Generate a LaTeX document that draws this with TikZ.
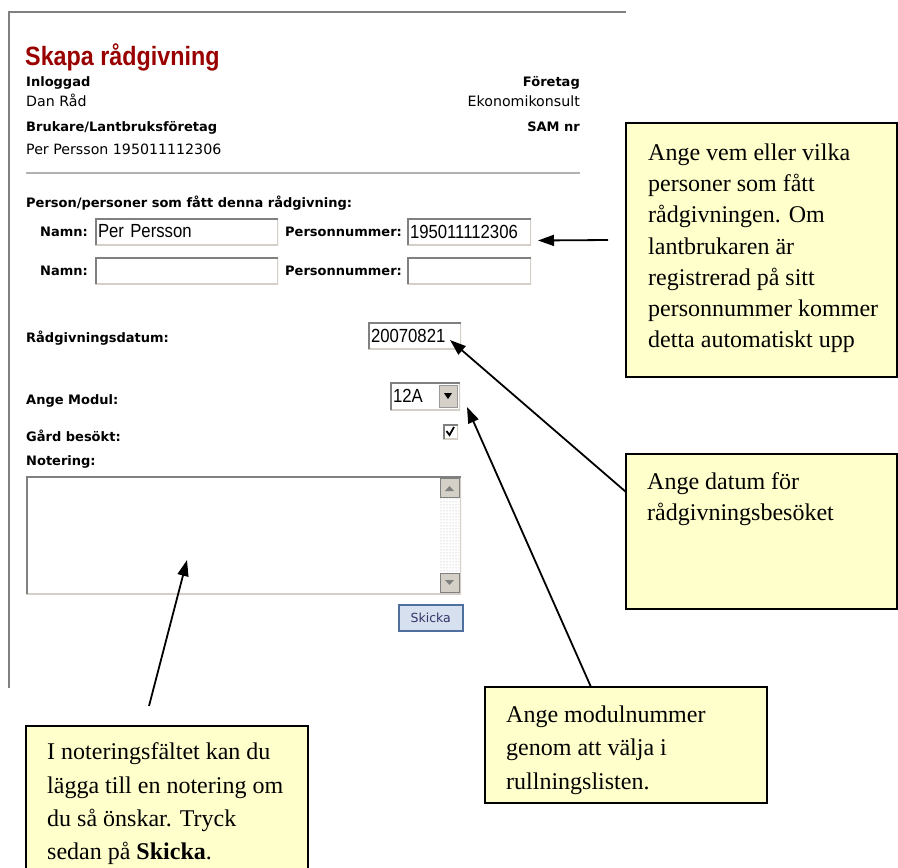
\documentclass[tikz,border=0pt]{standalone}
\usepackage{fontspec}
\setmainfont{Liberation Serif}
\newfontfamily\uifont{DejaVu Sans}
\newfontfamily\headfont[FakeStretch=0.88]{Liberation Sans}
\newfontfamily\fieldfont[FakeStretch=0.88]{Liberation Sans}
\usetikzlibrary{arrows.meta,patterns}
\definecolor{notecol}{HTML}{FFFFCC}
\definecolor{titlered}{HTML}{990000}
\definecolor{framegray}{HTML}{808080}
\definecolor{winbtn}{HTML}{D4D0C8}
\definecolor{btnfill}{HTML}{D6E0EF}
\definecolor{btnline}{HTML}{4F6F9F}
\definecolor{btntext}{HTML}{333366}

\begin{document}
\begin{tikzpicture}[x=1pt,y=-1pt,
  lbl/.style={font=\uifont\bfseries\fontsize{13}{15}\selectfont, inner sep=0pt},
  txt/.style={font=\uifont\fontsize{14.2}{16}\selectfont, inner sep=0pt},
  field/.style={anchor=north west, fill=white, inner xsep=3pt, inner ysep=0pt, outer sep=0pt,
    align=left, font=\fieldfont\fontsize{19}{19}\selectfont,
    path picture={
      \draw[line width=2pt, winbtn] (path picture bounding box.south west) -| (path picture bounding box.north east);
      \draw[line width=3pt, framegray] (path picture bounding box.south west) |- (path picture bounding box.north east);
    }},
  note/.style={anchor=north west, fill=notecol, draw=black, line width=2pt, outer sep=0pt, inner sep=0pt},
  notetxt/.style={anchor=north west, inner sep=0pt, align=left},
  arr/.style={-{Triangle[length=16pt,width=11pt]}, line width=1.8pt}]
\useasboundingbox (0,0) rectangle (898,868);

% screenshot of the form
\draw[framegray, line width=2.5pt] (9,688) -- (9,12) -- (626,12);
\node[anchor=base west, inner sep=0pt, font=\headfont\bfseries\fontsize{26.5}{28}\selectfont, text=titlered] (title) at (25,65) {Skapa rådgivning};
\node[lbl, anchor=base west] (inl) at (26,86) {Inloggad};
\node[txt, anchor=base west] (user) at (26,106) {Dan Råd};
\node[lbl, anchor=base west] (bruk) at (26,131) {Brukare/Lantbruksföretag};
\node[txt, anchor=base west] (farmer) at (26,154) {Per Persson 195011112306};
\node[lbl, anchor=base east] (comp) at (580,86) {Företag};
\node[txt, anchor=base east] (compname) at (580,106) {Ekonomikonsult};
\node[lbl, anchor=base east] (sam) at (580,131) {SAM nr};
\draw[gray!60, line width=2pt] (26,173) -- (580,173);

\node[lbl, anchor=base west] (pers) at (26,207) {Person/personer som fått denna rådgivning:};
\node[lbl, anchor=base east] (nmlbl1) at (88,236) {Namn:};
\node[field, text width=177pt, minimum height=27pt] (nm1) at (95,218) {Per Persson};
\node[lbl, anchor=base west] (pnlbl1) at (285,236) {Personnummer:};
\node[field, text width=118pt, minimum height=27pt] (pn1) at (407,218) {195011112306};
\node[lbl, anchor=base east] (nmlbl2) at (88,275) {Namn:};
\node[field, text width=177pt, minimum height=27pt] (nm2) at (95,257) {};
\node[lbl, anchor=base west] (pnlbl2) at (285,275) {Personnummer:};
\node[field, text width=118pt, minimum height=27pt] (pn2) at (407,257) {};

\node[lbl, anchor=base west] (datlbl) at (26,342) {Rådgivningsdatum:};
\node[field, text width=87pt, minimum height=27pt] (dt) at (368,322) {20070821};

\node[lbl, anchor=base west] (modlbl) at (26,404) {Ange Modul:};
\node[field, text width=64pt, minimum height=28pt] (dd) at (390,382) {12A};
\filldraw[fill=winbtn, draw=gray!80] (439,385) rectangle (457,407);
\fill (444,393) -- (452,393) -- (448,399) -- cycle;

\node[lbl, anchor=base west] (gardlbl) at (26,441) {Gård besökt:};
\node[field, inner xsep=0pt, minimum width=15pt, minimum height=15pt] (chk) at (443,424) {};
\draw[line width=1.8pt] (446.5,431) -- (449.5,435) -- (454,427);

\node[lbl, anchor=base west] (notlbl) at (26,465) {Notering:};
\node[field, text width=429pt, minimum height=118pt] (ta) at (26,476) {};
\fill[pattern=dots, pattern color=gray!70] (440,478) rectangle (459,592);
\filldraw[fill=winbtn, draw=gray] (440,478) rectangle (459,497);
\fill[gray] (445,491) -- (454,491) -- (449.5,486) -- cycle;
\filldraw[fill=winbtn, draw=gray] (440,573) rectangle (459,592);
\fill[gray] (445,580) -- (454,580) -- (449.5,585) -- cycle;

\node[anchor=north west, fill=btnfill, draw=btnline, line width=1.5pt, minimum width=64pt, minimum height=26pt, inner sep=0pt,
  font=\uifont\fontsize{12.5}{14}\selectfont, text=btntext] (send) at (398,604) {Skicka};

% yellow notes
\node[note, minimum width=271pt, minimum height=254pt] (b1) at (626,123) {};
\node[notetxt, font=\fontsize{24}{31.2}\selectfont] (b1txt) at (648,143.6) {Ange vem eller vilka\\personer som fått\\rådgivningen. Om\\lantbrukaren är\\registrerad på sitt\\personnummer kommer\\detta automatiskt upp};
\node[note, minimum width=271pt, minimum height=155pt] (b2) at (626,454) {};
\node[notetxt, font=\fontsize{24}{31.2}\selectfont] (b2txt) at (647,472.6) {Ange datum för\\rådgivningsbesöket};
\node[note, minimum width=282pt, minimum height=116pt] (b3) at (485,687) {};
\node[notetxt, font=\fontsize{24}{33.3}\selectfont] (b3txt) at (506,705.6) {Ange modulnummer\\genom att välja i\\rullningslisten.};
\node[note, minimum width=282pt, minimum height=170pt] (b4) at (26,726) {};
\node[notetxt, font=\fontsize{24}{33.3}\selectfont] (b4txt) at (47,742.6) {I noteringsfältet kan du\\lägga till en notering om\\du så önskar. Tryck\\sedan på \textbf{Skicka}.};

% arrows
\coordinate (t1) at (608,240);
\draw[arr] (t1) -- ([shift={(7,9)}]pn1.east);
\draw[arr] ([shift={(0,38)}]b2.north west) -- ([shift={(-11,-9)}]dt.south east);
\draw[arr] ([shift={(106,0)}]b3.north west) -- ([shift={(7,-3)}]dd.south east);
\coordinate (t4) at (149,706);
\draw[arr] (t4) -- ([shift={(161,-34)}]ta.south west);
\end{tikzpicture}
\end{document}
